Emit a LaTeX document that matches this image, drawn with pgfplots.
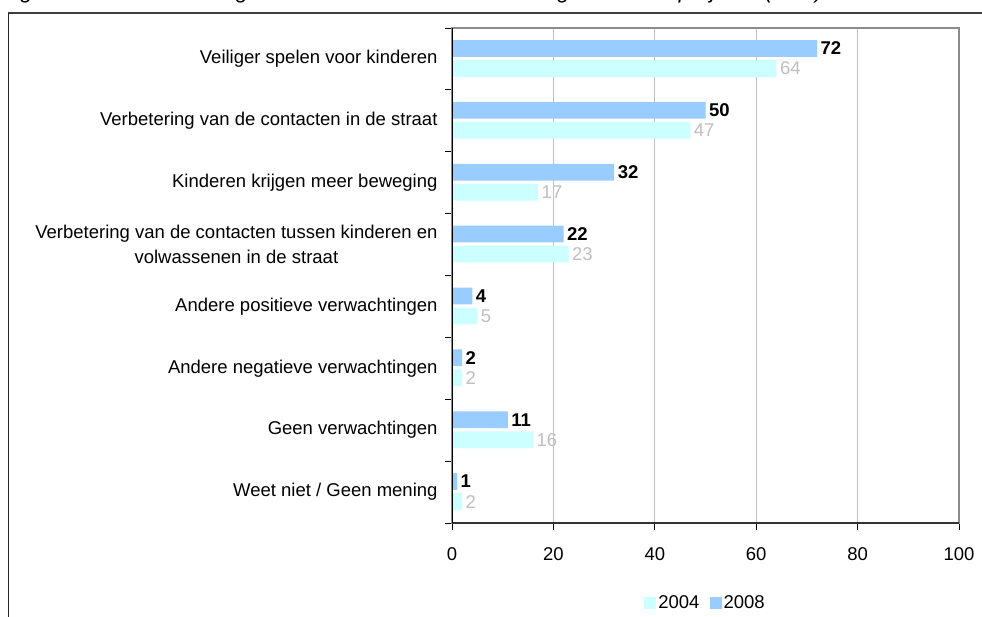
\documentclass[border=0pt]{standalone}
\usepackage{pgfplots}
\pgfplotsset{compat=1.18}
\usepackage{fontspec}
\setmainfont{Liberation Sans}
\definecolor{c2008}{HTML}{99CCFF}
\definecolor{c2004}{HTML}{CCFFFF}
\definecolor{lbl2004}{HTML}{C0C0C0}
\definecolor{gridc}{HTML}{C0C0C0}
\definecolor{boxc}{HTML}{8C8C8C}
\newcommand\lf{\fontsize{18.5}{25}\selectfont}
\begin{document}
\begin{tikzpicture}
\useasboundingbox (0pt,0pt) rectangle (982pt,616pt);
\clip (0pt,0pt) rectangle (982pt,616pt);
\fill[white] (0pt,0pt) rectangle (982pt,616pt);
\node[anchor=base west, inner sep=0pt, font=\fontsize{22}{26}\selectfont\itshape] at (2pt,617.5pt) {Figuur 3: Wat waren volgens de bewoners de verwachtingen van het project? (in \%)};
\draw[line width=2pt, color=black!75] (8pt,603pt) -- (990pt,603pt);
\draw[line width=1pt, black!85] (8pt,603pt) -- (8pt,-5pt);
\begin{axis}[
  at={(452pt,93pt)}, anchor=south west,
  scale only axis, width=507pt, height=495pt,
  xmin=0, xmax=100, ymin=-0.5, ymax=7.5,
  xbar, bar width=16.7pt,
  clip=false,
  axis line style={draw=boxc, line width=1.2pt},
  xtick={0,20,...,100},
  xtick pos=bottom, ytick pos=left,
  xmajorgrids=true,
  grid style={gridc, line width=0.8pt},
  tick align=outside,
  major tick length=7pt,
  tick style={black, line width=0.8pt},
  ytick={-0.5,0.5,...,7.5},
  yticklabels={},
  extra y ticks={0,1,2,3,4,5,6,7},
  extra y tick labels={Weet niet / Geen mening, Geen verwachtingen, Andere negatieve verwachtingen, Andere positieve verwachtingen, {Verbetering van de contacten tussen kinderen en\\volwassenen in de straat}, Kinderen krijgen meer beweging, Verbetering van de contacten in de straat, Veiliger spelen voor kinderen},
  extra y tick style={major tick length=0pt, grid=none},
  yticklabel style={align=center, font=\lf, xshift=-11pt},
  xticklabel style={font=\lf, yshift=-14pt},
  /pgf/number format/assume math mode=true,
  legend style={at={(0.5,-0.1616)}, anchor=center, draw=none, fill=none, font=\lf,
    legend columns=2, /tikz/every even column/.append style={column sep=8pt}},
]
\addplot[fill=c2004, draw=none, bar shift=-9.5pt,
  legend image code/.code={\fill[c2004] (0pt,-6pt) rectangle (12pt,6pt);},
  nodes near coords, nodes near coords style={text=lbl2004, font=\lf}]
  coordinates {(64,7) (47,6) (17,5) (23,4) (5,3) (2,2) (16,1) (2,0)};
\addlegendentry{2004}
\addplot[fill=c2008, draw=none, bar shift=10.5pt,
  legend image code/.code={\fill[c2008] (0pt,-6pt) rectangle (12pt,6pt);},
  nodes near coords, nodes near coords style={text=black, font=\lf\bfseries}]
  coordinates {(72,7) (50,6) (32,5) (22,4) (4,3) (2,2) (11,1) (1,0)};
\addlegendentry{2008}
\draw[black!80, line width=2pt] (rel axis cs:0,0) -- (rel axis cs:1,0);
\draw[black, line width=1pt] (rel axis cs:0,0) -- (rel axis cs:0,1);
\end{axis}
\end{tikzpicture}
\end{document}
